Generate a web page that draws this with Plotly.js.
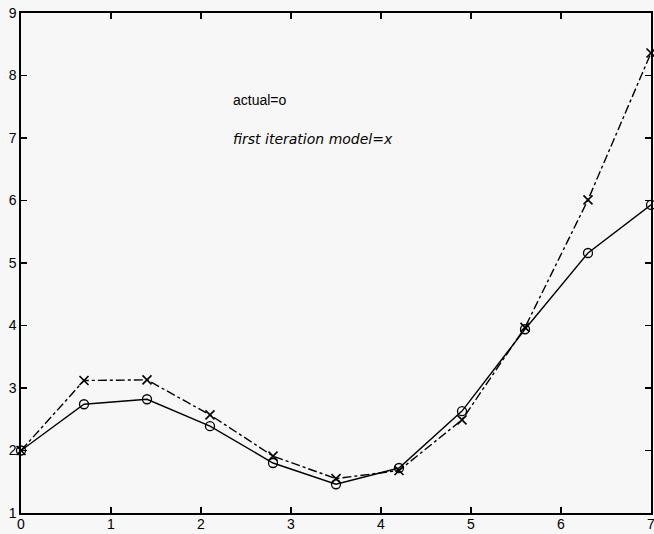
<!DOCTYPE html>
<html>
<head>
<meta charset="utf-8">
<script src="https://cdn.plot.ly/plotly-3.0.1.min.js"></script>
<style>html,body{margin:0;padding:0;background:#f7f7f7;}#chart{width:654px;height:534px;}</style>
</head>
<body>
<div id="chart"></div>
<script>
const xValues = [0, 0.7, 1.4, 2.1, 2.8, 3.5, 4.2, 4.9, 5.6, 6.3, 7.0];
const actual = [2.0, 2.74, 2.82, 2.39, 1.80, 1.46, 1.72, 2.63, 3.94, 5.16, 5.93];
const model = [2.0, 3.12, 3.13, 2.57, 1.91, 1.55, 1.68, 2.49, 3.97, 6.01, 8.36];
const xTicks = [0, 1, 2, 3, 4, 5, 6, 7];
const yTicks = [1, 2, 3, 4, 5, 6, 7, 8, 9];
const labelActual = "actual=o";
const labelModel = "first iteration model=x";

const traces = [
  {x: xValues, y: actual, mode: 'lines+markers', type: 'scatter', cliponaxis: false,
   line: {color: '#000', width: 1.4, dash: 'solid'},
   marker: {symbol: 'circle-open', size: 9, color: '#000', line: {width: 1.3, color: '#000'}}},
  {x: xValues, y: model, mode: 'lines+markers', type: 'scatter', cliponaxis: false,
   line: {color: '#000', width: 1.4, dash: 'dashdot'},
   marker: {symbol: 'x-thin-open', size: 9, color: '#000', line: {width: 1.6, color: '#000'}}}
];

const axisCommon = {
  showgrid: false, zeroline: false, showline: true, linecolor: '#000', linewidth: 1.6,
  ticks: 'inside', ticklen: 6, tickwidth: 1.3, tickcolor: '#000', mirror: 'ticks',
  ticklabeloverflow: 'allow',
  tickfont: {family: 'Liberation Sans, Arial, sans-serif', size: 14, color: '#000'}
};

const layout = {
  width: 654, height: 534,
  margin: {l: 21, r: 3, t: 13, b: 21, pad: 0},
  paper_bgcolor: '#f7f7f7', plot_bgcolor: '#f7f7f7',
  showlegend: false,
  xaxis: Object.assign({}, axisCommon, {range: [0, 7], tickvals: xTicks, ticktext: xTicks.map(String), ticklabelstandoff: -2}),
  yaxis: Object.assign({}, axisCommon, {range: [1, 9], tickvals: yTicks, ticktext: yTicks.map(String), ticklabelstandoff: 0}),
  annotations: [
    {x: 2.33, y: 7.61, xref: 'x', yref: 'y', text: labelActual, showarrow: false, xanchor: 'left', yanchor: 'middle',
     font: {family: 'Liberation Sans, Arial, sans-serif', size: 14, color: '#000'}},
    {x: 2.33, y: 6.98, xref: 'x', yref: 'y', text: '<i>' + labelModel + '</i>', showarrow: false, xanchor: 'left', yanchor: 'middle',
     font: {family: 'DejaVu Sans, sans-serif', size: 14, color: '#000'}}
  ]
};

Plotly.newPlot('chart', traces, layout, {displayModeBar: false, staticPlot: true});
</script>
</body>
</html>
